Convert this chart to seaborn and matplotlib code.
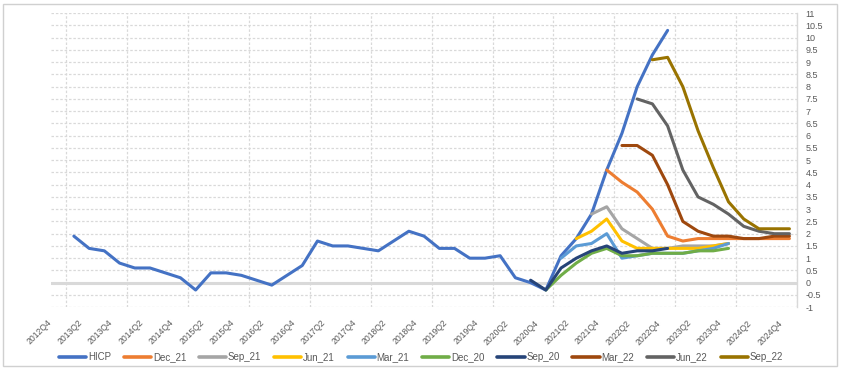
import matplotlib.pyplot as plt
import matplotlib.transforms as mtransforms
import numpy as np
import pandas as pd
import seaborn as sns
from matplotlib.lines import Line2D
from matplotlib.patches import Rectangle


# Categories: quarters 2012Q4 .. 2024Q4
quarters = [f"{y}Q{q}" for y in range(2012, 2025) for q in range(1, 5)][3:]

# HICP outturn and the successive projection vintages
hicp_start = "2013Q1"
hicp = [1.9, 1.4, 1.3, 0.8, 0.6, 0.6, 0.4, 0.2, -0.3, 0.4, 0.4, 0.3,
        0.1, -0.1, 0.3, 0.7, 1.7, 1.5, 1.5, 1.4, 1.3, 1.7, 2.1, 1.9,
        1.4, 1.4, 1.0, 1.0, 1.1, 0.2, 0.0, -0.3, 1.1, 1.8, 2.8, 4.6,
        6.1, 8.0, 9.3, 10.3]

dec_21_start = "2021Q4"
dec_21 = [4.6, 4.1, 3.7, 3.0, 1.9, 1.7, 1.8, 1.8, 1.8, 1.8, 1.8, 1.8, 1.8]

sep_21_start = "2021Q3"
sep_21 = [2.8, 3.1, 2.2, 1.8, 1.4, 1.4, 1.5, 1.5, 1.5, 1.6]

jun_21_start = "2021Q2"
jun_21 = [1.8, 2.1, 2.6, 1.7, 1.4, 1.4, 1.4, 1.4, 1.4, 1.5, 1.6]

mar_21_start = "2021Q1"
mar_21 = [1.0, 1.5, 1.6, 2.0, 1.0, 1.1, 1.2, 1.2, 1.2, 1.3, 1.4, 1.6]

dec_20_start = "2020Q4"
dec_20 = [-0.3, 0.3, 0.8, 1.2, 1.4, 1.1, 1.1, 1.2, 1.2, 1.2, 1.3, 1.3, 1.4]

sep_20_start = "2020Q3"
sep_20 = [0.1, -0.3, 0.6, 1.0, 1.3, 1.5, 1.2, 1.3, 1.3, 1.4]

mar_22_start = "2022Q1"
mar_22 = [5.6, 5.6, 5.2, 4.0, 2.5, 2.1, 1.9, 1.9, 1.8, 1.8, 1.9, 1.9]

jun_22_start = "2022Q2"
jun_22 = [7.5, 7.3, 6.4, 4.6, 3.5, 3.2, 2.8, 2.3, 2.1, 2.0, 2.0]

sep_22_start = "2022Q3"
sep_22 = [9.1, 9.2, 8.0, 6.2, 4.7, 3.3, 2.6, 2.2, 2.2, 2.2]

series_names = ["HICP", "Dec_21", "Sep_21", "Jun_21", "Mar_21",
                "Dec_20", "Sep_20", "Mar_22", "Jun_22", "Sep_22"]
series_colors = ["#4472C4", "#ED7D31", "#A5A5A5", "#FFC000", "#5B9BD5",
                 "#70AD47", "#264478", "#9E480E", "#636363", "#997300"]

series_data = [
    ("HICP", hicp_start, hicp),
    ("Dec_21", dec_21_start, dec_21),
    ("Sep_21", sep_21_start, sep_21),
    ("Jun_21", jun_21_start, jun_21),
    ("Mar_21", mar_21_start, mar_21),
    ("Dec_20", dec_20_start, dec_20),
    ("Sep_20", sep_20_start, sep_20),
    ("Mar_22", mar_22_start, mar_22),
    ("Jun_22", jun_22_start, jun_22),
    ("Sep_22", sep_22_start, sep_22),
]

# long format frame for seaborn
rows = []
for name, start, values in series_data:
    i0 = quarters.index(start)
    for k, v in enumerate(values):
        rows.append({"pos": i0 + k, "quarter": quarters[i0 + k],
                     "value": v, "series": name})
df = pd.DataFrame(rows)

sns.set_style("white")
plt.rcParams["font.family"] = ["Liberation Sans", "DejaVu Sans"]

fig = plt.figure(figsize=(8.42, 3.73), dpi=100)
ax = fig.add_axes([0.0606, 0.1765, 0.886, 0.788])

grid_col = "#d9d9d9"
text_col = "#595959"

# gridlines
for yv in np.arange(-1, 11.01, 0.5):
    ax.axhline(yv, color=grid_col, lw=0.9, ls=(0, (2, 1.5)), zorder=0)
for xv in np.arange(0.5, 48.6, 4):
    ax.axvline(xv, color=grid_col, lw=0.9, ls=(0, (2, 1.5)), zorder=0)
ax.axhline(0, color=grid_col, lw=2.2, zorder=1)

sns.lineplot(data=df, x="pos", y="value", hue="series",
             hue_order=series_names, palette=series_colors,
             estimator=None, sort=False, linewidth=2.2, legend=False, ax=ax)

ax.set_xlim(-0.5, 48.5)
ax.set_ylim(-1, 11)
ax.set_xlabel("")
ax.set_ylabel("")

ax.yaxis.tick_right()
yt = np.arange(-1, 11.01, 0.5)
ax.set_yticks(yt)
ax.set_yticklabels([f"{v:g}" for v in yt], fontsize=6.5, color=text_col)
ax.tick_params(axis="y", length=0, pad=6)

ax.set_xticks(range(0, len(quarters), 2))
ax.set_xticklabels(quarters[::2], rotation=45, ha="right", va="top",
                   fontsize=6.2, color=text_col)
ax.tick_params(axis="x", length=0, pad=8)
offset = mtransforms.ScaledTranslation(-5 / 100, 0, fig.dpi_scale_trans)
for lab in ax.get_xticklabels():
    lab.set_transform(lab.get_transform() + offset)

for side in ["top", "left", "bottom"]:
    ax.spines[side].set_visible(False)
ax.spines["right"].set_color(grid_col)
ax.spines["right"].set_linewidth(1.0)

handles = [Line2D([0], [0], color=c, lw=2.6) for c in series_colors]
fig.legend(handles, series_names, loc="center", ncol=10,
           bbox_to_anchor=(0.5, 0.043), frameon=False, fontsize=7,
           handlelength=2.8, handletextpad=0.2, columnspacing=1.3,
           labelcolor=text_col)

# chart area border
fig.patches.append(Rectangle((0.004, 0.02), 0.99, 0.97, transform=fig.transFigure,
                             fill=False, edgecolor="#d0d0d0", lw=1.0))

fig.savefig("out.png", dpi=100)
